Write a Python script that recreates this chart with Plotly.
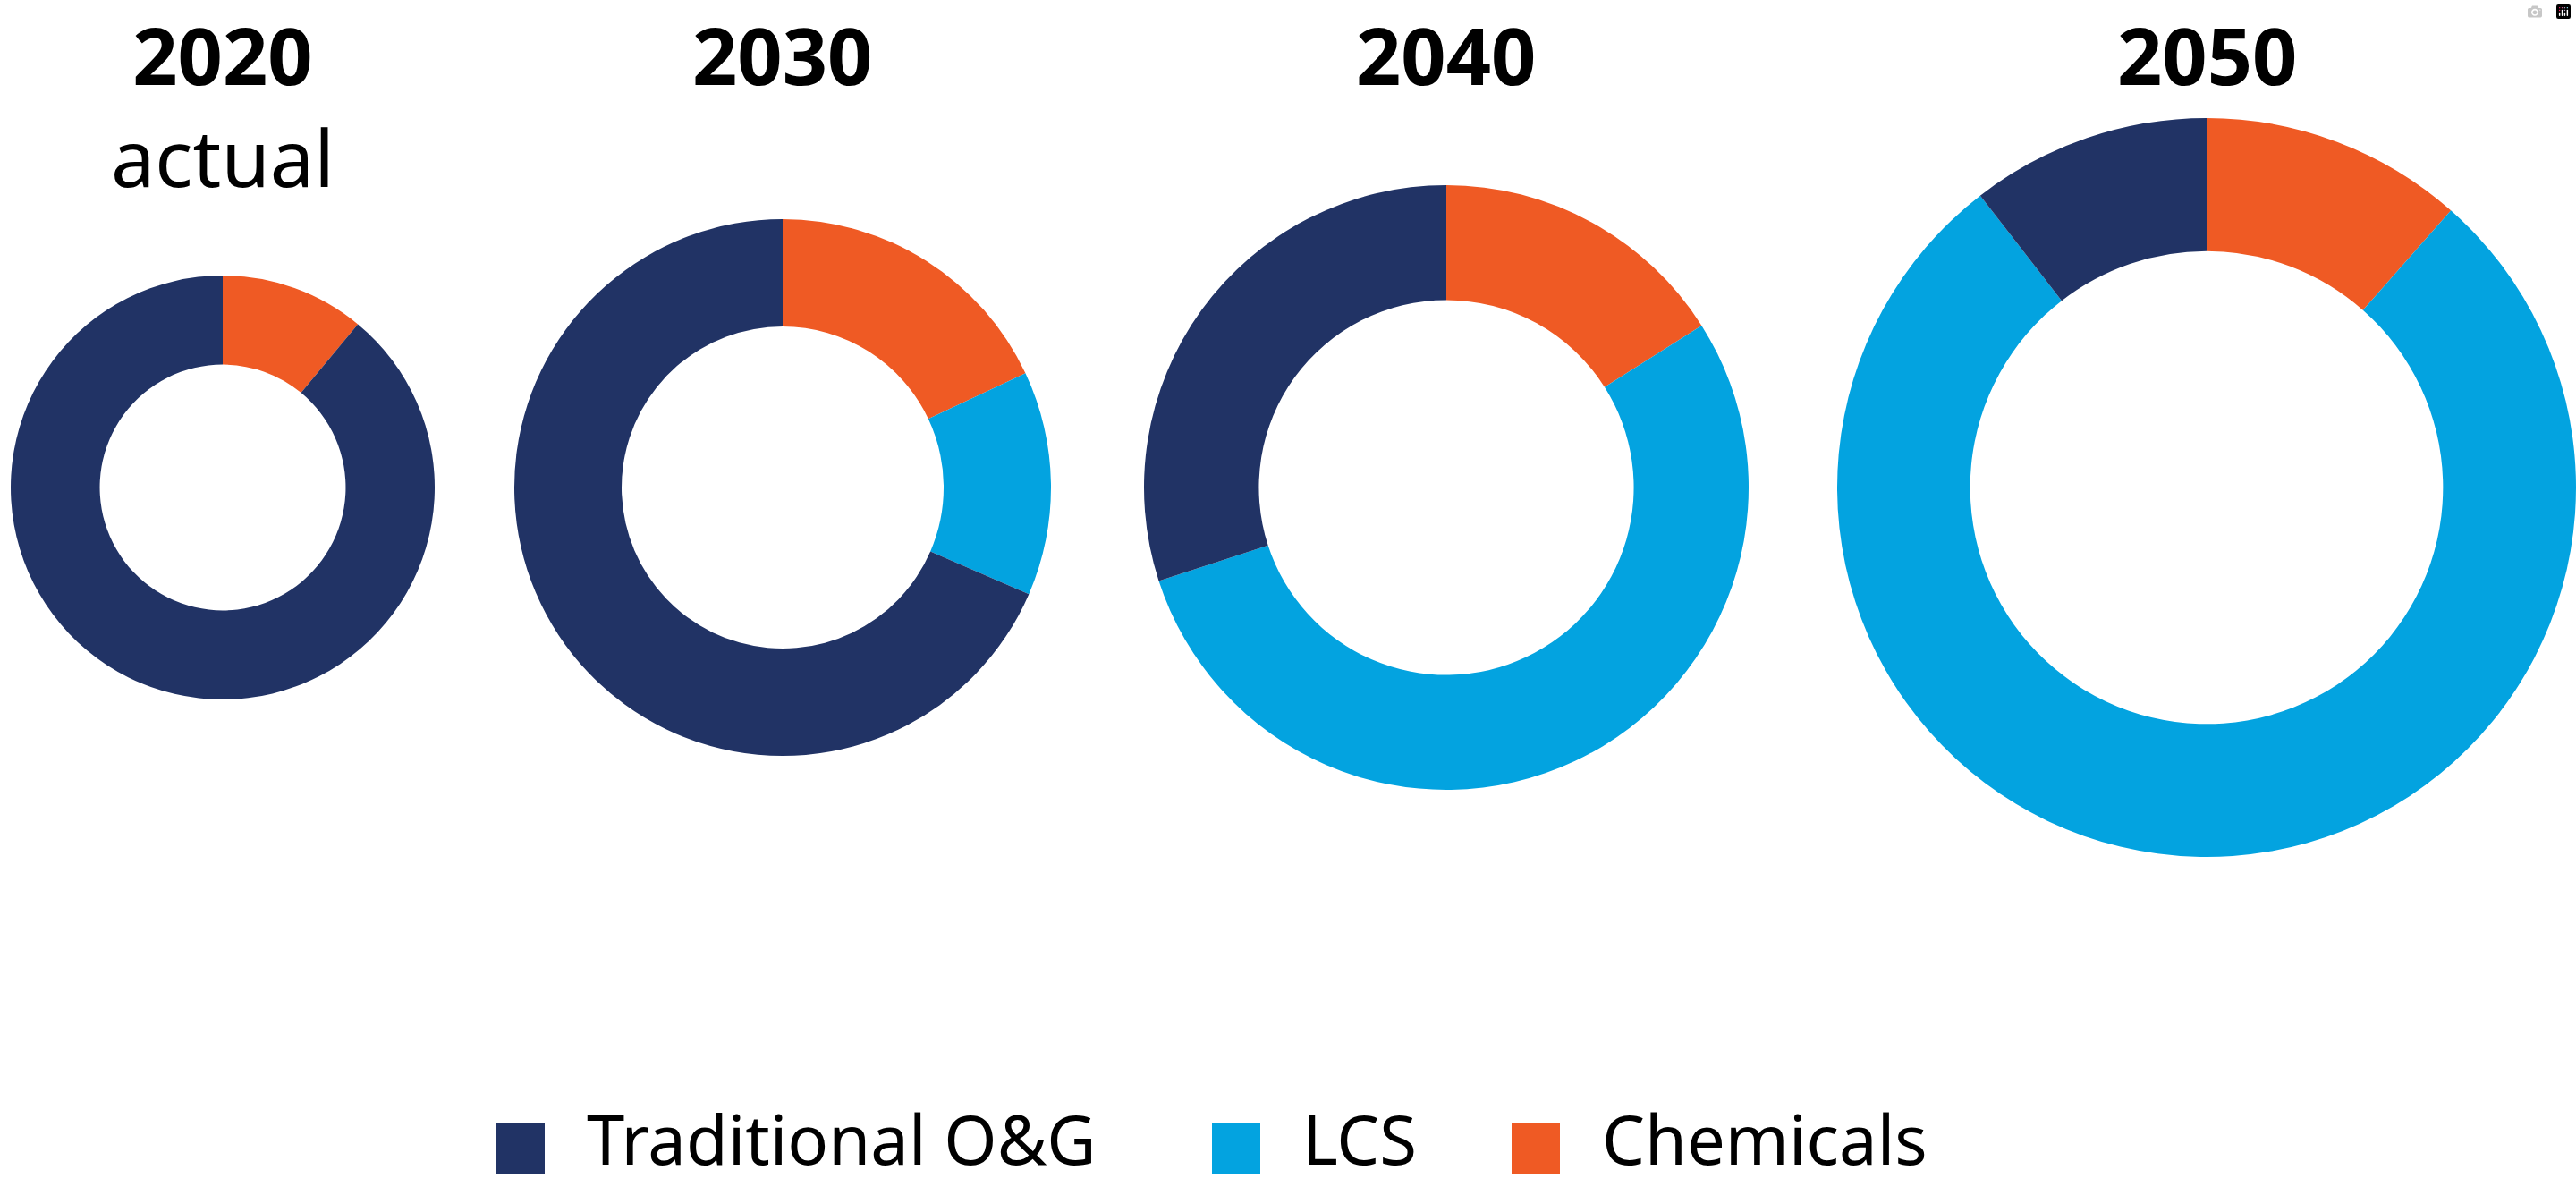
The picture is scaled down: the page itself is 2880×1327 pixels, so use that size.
import plotly.graph_objects as go

# ---- data ----
year_labels = ["2020", "2030", "2040", "2050"]
year_notes = ["actual", "", "", ""]
segments = ["Chemicals", "LCS", "Traditional O&G"]
chemicals = [11, 18, 16, 11.5]
lcs = [0, 13.5, 54, 78]
traditional = [89, 68.5, 30, 10.5]

legend_labels = ["Traditional O&G", "LCS", "Chemicals"]
colors = {"Traditional O&G": "#213365", "LCS": "#03A3E0", "Chemicals": "#EF5A24"}

# ---- layout geometry (pixels) ----
W, H = 2880, 1327
centers_x = [249, 875, 1617, 2467]
center_y = 545
radii = [237, 300, 338, 413]
holes = [0.58, 0.60, 0.62, 0.64]


def px(x):
    return x / W


def py(y):
    return 1 - y / H


fig = go.Figure()
for i, yr in enumerate(year_labels):
    cx, r = centers_x[i], radii[i]
    vals = [chemicals[i], lcs[i], traditional[i]]
    fig.add_trace(go.Pie(
        labels=segments,
        values=vals,
        hole=holes[i],
        sort=False,
        direction="clockwise",
        rotation=0,
        textinfo="none",
        hoverinfo="label+percent",
        marker=dict(colors=[colors[s] for s in segments], line=dict(width=0)),
        domain=dict(x=[px(cx - r), min(1, px(cx + r))],
                    y=[py(center_y + r), py(center_y - r)]),
        showlegend=False,
    ))
    txt = "<b>%s</b>" % yr
    if year_notes[i]:
        txt += "<br>%s" % year_notes[i]
    fig.add_annotation(
        x=px(cx), y=1, xref="paper", yref="paper",
        xanchor="center", yanchor="top", showarrow=False,
        text=txt, borderpad=0,
        font=dict(family="Noto Sans", size=88, color="#000000"),
        align="center",
    )

# ---- custom legend ----
sq_x = [555, 1355, 1690]
sq_w = 54
leg_y0, leg_y1 = 1256, 1312
for lab, x0 in zip(legend_labels, sq_x):
    fig.add_shape(type="rect", xref="paper", yref="paper",
                  x0=px(x0), x1=px(x0 + sq_w), y0=py(leg_y1), y1=py(leg_y0),
                  fillcolor=colors[lab], line=dict(width=0))
    fig.add_annotation(
        x=px(x0 + sq_w + 46), y=1, xref="paper", yref="paper",
        xanchor="left", yanchor="bottom", yshift=-H + 2, borderpad=0,
        showarrow=False, text=lab,
        font=dict(family="Noto Sans", size=76, color="#000000"),
    )

fig.update_layout(
    width=W, height=H,
    margin=dict(l=0, r=0, t=0, b=0),
    paper_bgcolor="white", plot_bgcolor="white",
    showlegend=False,
)

fig.write_html("out.html",
               post_script="document.body.style.margin='0';document.body.style.overflow='hidden';")
